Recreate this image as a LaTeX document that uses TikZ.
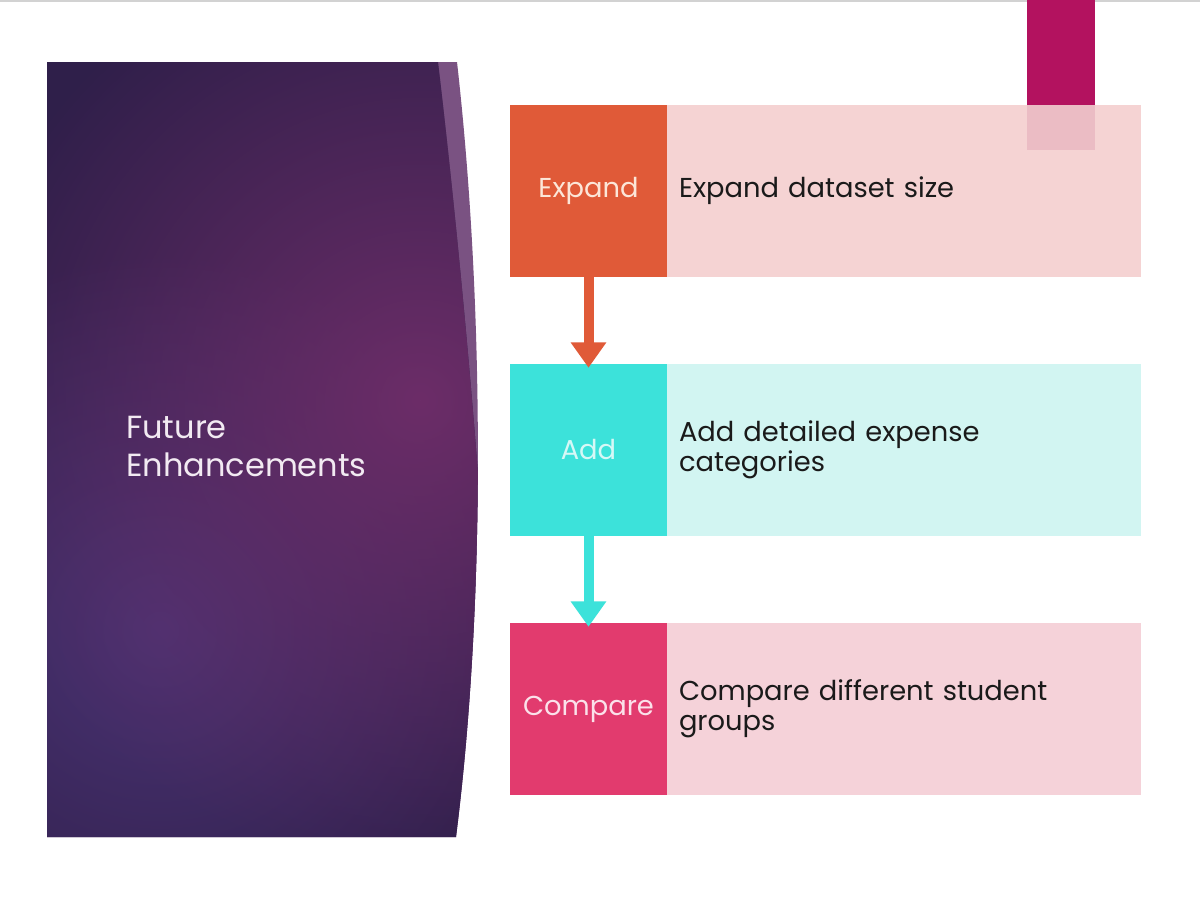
\documentclass[tikz,border=0pt]{standalone}
\usepackage{fontspec}
\setmainfont{Poppins}
\usetikzlibrary{arrows.meta,fadings}
\definecolor{linegray}{HTML}{D2D2D2}
\definecolor{paneldark}{HTML}{2F1F4A}
\definecolor{panelmid}{HTML}{6C2D68}
\definecolor{panelblue}{HTML}{4A3373}
\definecolor{panellight}{HTML}{7A5282}
\definecolor{titlecol}{HTML}{F2EAF2}
\definecolor{orangec}{HTML}{E05A38}
\definecolor{cyanc}{HTML}{3CE2DA}
\definecolor{pinkc}{HTML}{E23B6E}
\definecolor{boxa}{HTML}{F5D3D3}
\definecolor{boxb}{HTML}{D2F5F2}
\definecolor{boxc}{HTML}{F5D2D9}
\definecolor{laba}{HTML}{FCE6D8}
\definecolor{labb}{HTML}{D6F8F6}
\definecolor{labc}{HTML}{FBE1EA}
\definecolor{magbar}{HTML}{B3125F}
\definecolor{magover}{HTML}{EBBCC4}
\definecolor{bodytext}{HTML}{1A1A1A}
\tikzfading[name=radfade, inner color=transparent!0, outer color=transparent!100]
\tikzset{
  labbox/.style={rectangle, inner sep=0pt, minimum width=117.75pt, minimum height=129pt,
     font=\fontsize{20.5}{22.5}\selectfont},
  txtbox/.style={rectangle, inner xsep=9pt, inner ysep=0pt, minimum width=355.5pt,
     minimum height=129pt, text width=337.5pt, align=left, text=bodytext,
     font=\fontsize{20.5}{22.5}\selectfont},
  flowarrow/.style={line width=7.5pt, -{Triangle[width=25.5pt,length=19pt]}}
}
\begin{document}
\begin{tikzpicture}[x=0.75pt,y=-0.75pt]
\useasboundingbox (0,0) rectangle (1200,900);
\fill[white] (0,0) rectangle (1200,900);
\fill[linegray] (0,0) rectangle (1200,1.5);
% left panel
\fill[panellight] (47,62) -- (457,62) .. controls (484,300) and (486,600) .. (456,837) -- (47,837) -- cycle;
\begin{scope}
  \clip (47,62) -- (457,62) .. controls (484,300) and (486,600) .. (456,837) -- (47,837) -- cycle;
  \clip (47,62) -- (438,62) .. controls (452,180) and (468,340) .. (480,500) -- (520,500) -- (520,900) -- (47,900) -- cycle;
  \fill[paneldark] (0,0) rectangle (600,900);
  \fill[panelblue, path fading=radfade] (160,630) circle (380);
  \fill[panelmid, path fading=radfade] (420,400) circle (470);
\end{scope}
\node[anchor=west, align=left, inner sep=0pt, text=titlecol,
      font=\fontsize{24}{28.5}\selectfont] (title) at (126,446) {Future\\Enhancements};
% boxes
\node[labbox, fill=orangec, text=laba] (lab1) at (588.5,191) {\raisebox{-1.5pt}{Expand}};
\node[txtbox, fill=boxa] (txt1) at (904,191) {\raisebox{-1.5pt}{Expand dataset size}};
\node[labbox, fill=cyanc, text=labb] (lab2) at (588.5,450) {Add};
\node[txtbox, fill=boxb] (txt2) at (904,450) {Add detailed expense\\categories};
\node[labbox, fill=pinkc, text=labc] (lab3) at (588.5,709) {\raisebox{-1.5pt}{Compare}};
\node[txtbox, fill=boxc] (txt3) at (904,709) {Compare different student\\groups};
% arrows
\draw[flowarrow, orangec] (lab1.south) -- ([yshift=-3pt]lab2.north);
\draw[flowarrow, cyanc] (lab2.south) -- ([yshift=-3pt]lab3.north);
% magenta bar
\fill[magbar] (1027,0) rectangle (1095,105);
\fill[magover] (1027,105) rectangle (1095,150);
\end{tikzpicture}
\end{document}
